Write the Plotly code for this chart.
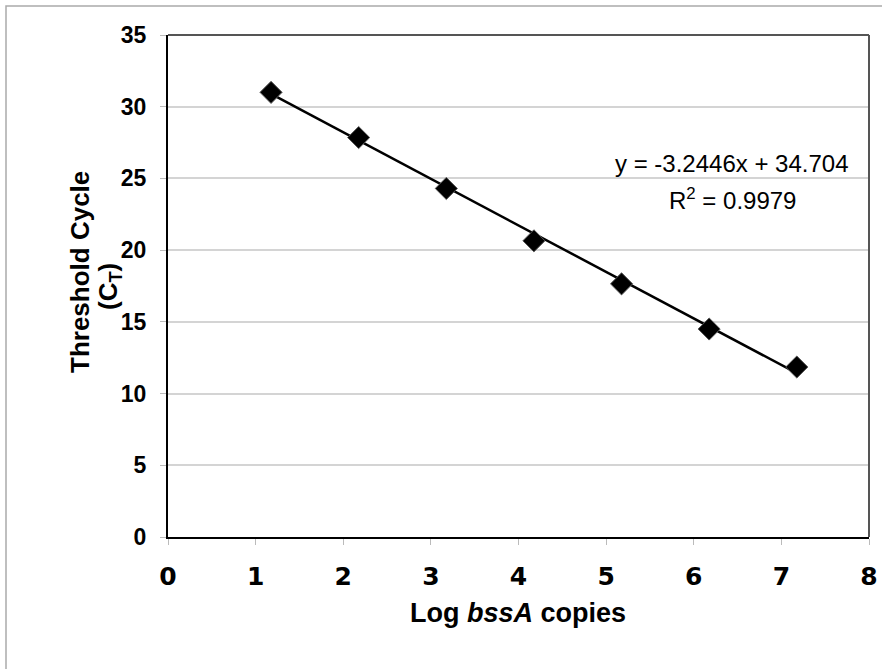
import plotly.graph_objects as go

# Data
log_copies = [1.176, 2.176, 3.176, 4.176, 5.176, 6.176, 7.176]
threshold_cycle = [31.0, 27.85, 24.3, 20.65, 17.65, 14.5, 11.85]
slope = -3.2446
intercept = 34.704
r_squared = 0.9979
x_ticks = [0, 1, 2, 3, 4, 5, 6, 7, 8]
y_ticks = [0, 5, 10, 15, 20, 25, 30, 35]

W, H = 882, 669
L, R, T, B = 168, 13, 35, 132
pw, ph = W - L - R, H - T - B

def px_x(p):
    return (p - L) / pw

def px_y(p):
    return (H - B - p) / ph

trend_x = [log_copies[0], log_copies[-1]]
trend_y = [slope * v + intercept for v in trend_x]

fig = go.Figure()
fig.add_trace(go.Scatter(x=trend_x, y=trend_y, mode="lines",
                         line=dict(color="black", width=2.5),
                         hoverinfo="skip", showlegend=False))
fig.add_trace(go.Scatter(x=log_copies, y=threshold_cycle, mode="markers",
                         marker=dict(symbol="diamond", size=17, color="black",
                                     line=dict(color="#555", width=1)),
                         showlegend=False))

fig.update_layout(
    width=W, height=H,
    margin=dict(l=L, r=R, t=T, b=B, pad=0, autoexpand=False),
    plot_bgcolor="white", paper_bgcolor="white",
    showlegend=False,
    xaxis=dict(range=[0, 8], tickvals=x_ticks, showgrid=False, zeroline=False,
               automargin=False,
               showline=True, linecolor="black", linewidth=2,
               ticks="outside", ticklen=6, tickcolor="#bbbbbb", tickwidth=1,
               tickfont=dict(family="DejaVu Sans", size=25, color="black", weight="bold"),
               ticklabelstandoff=10),
    yaxis=dict(range=[0, 35], tickvals=y_ticks, showgrid=True, gridcolor="#d4d4d4",
               gridwidth=1.5, zeroline=False, automargin=False,
               showline=True, linecolor="black", linewidth=2,
               ticks="outside", ticklen=6, tickcolor="#bbbbbb", tickwidth=1,
               tickfont=dict(family="Liberation Sans", size=23, color="black", weight="bold"),
               ticklabelstandoff=9),
    shapes=[
        dict(type="line", xref="paper", yref="paper", x0=0, x1=1, y0=1, y1=1,
             line=dict(color="#555555", width=2)),
        dict(type="line", xref="paper", yref="paper", x0=1, x1=1, y0=0, y1=1,
             line=dict(color="#555555", width=2)),
        dict(type="rect", xref="paper", yref="paper",
             x0=px_x(6), x1=px_x(W + 5), y0=px_y(H + 5), y1=px_y(6),
             line=dict(color="#aaaaaa", width=1.5), layer="below"),
    ],
    annotations=[
        dict(text=f"y = {slope}x + {intercept}", xref="paper", yref="paper",
             x=px_x(732), y=px_y(163), xanchor="center", yanchor="middle",
             showarrow=False,
             font=dict(family="Liberation Sans", size=24, color="black")),
        dict(text=f"R<sup>2</sup> = {r_squared}", xref="paper", yref="paper",
             x=px_x(732), y=px_y(199), xanchor="center", yanchor="middle",
             showarrow=False,
             font=dict(family="Liberation Sans", size=24, color="black")),
        dict(text="<b>Log <i>bssA</i> copies</b>", xref="paper", yref="paper",
             x=px_x(518), y=px_y(613), xanchor="center", yanchor="middle",
             showarrow=False,
             font=dict(family="Liberation Sans", size=27, color="black")),
        dict(text="<b>Threshold Cycle</b>", xref="paper", yref="paper",
             x=px_x(80), y=px_y(272), xanchor="center", yanchor="middle",
             textangle=-90, showarrow=False,
             font=dict(family="Liberation Sans", size=26, color="black")),
        dict(text="<b>(C<sub>T</sub>)</b>", xref="paper", yref="paper",
             x=px_x(109), y=px_y(287), xanchor="center", yanchor="middle",
             textangle=-90, showarrow=False,
             font=dict(family="Liberation Sans", size=26, color="black")),
    ],
)

fig.write_html("out.html", config={"displayModeBar": False},
               post_script="document.body.style.margin='0';document.body.style.overflow='hidden';")
